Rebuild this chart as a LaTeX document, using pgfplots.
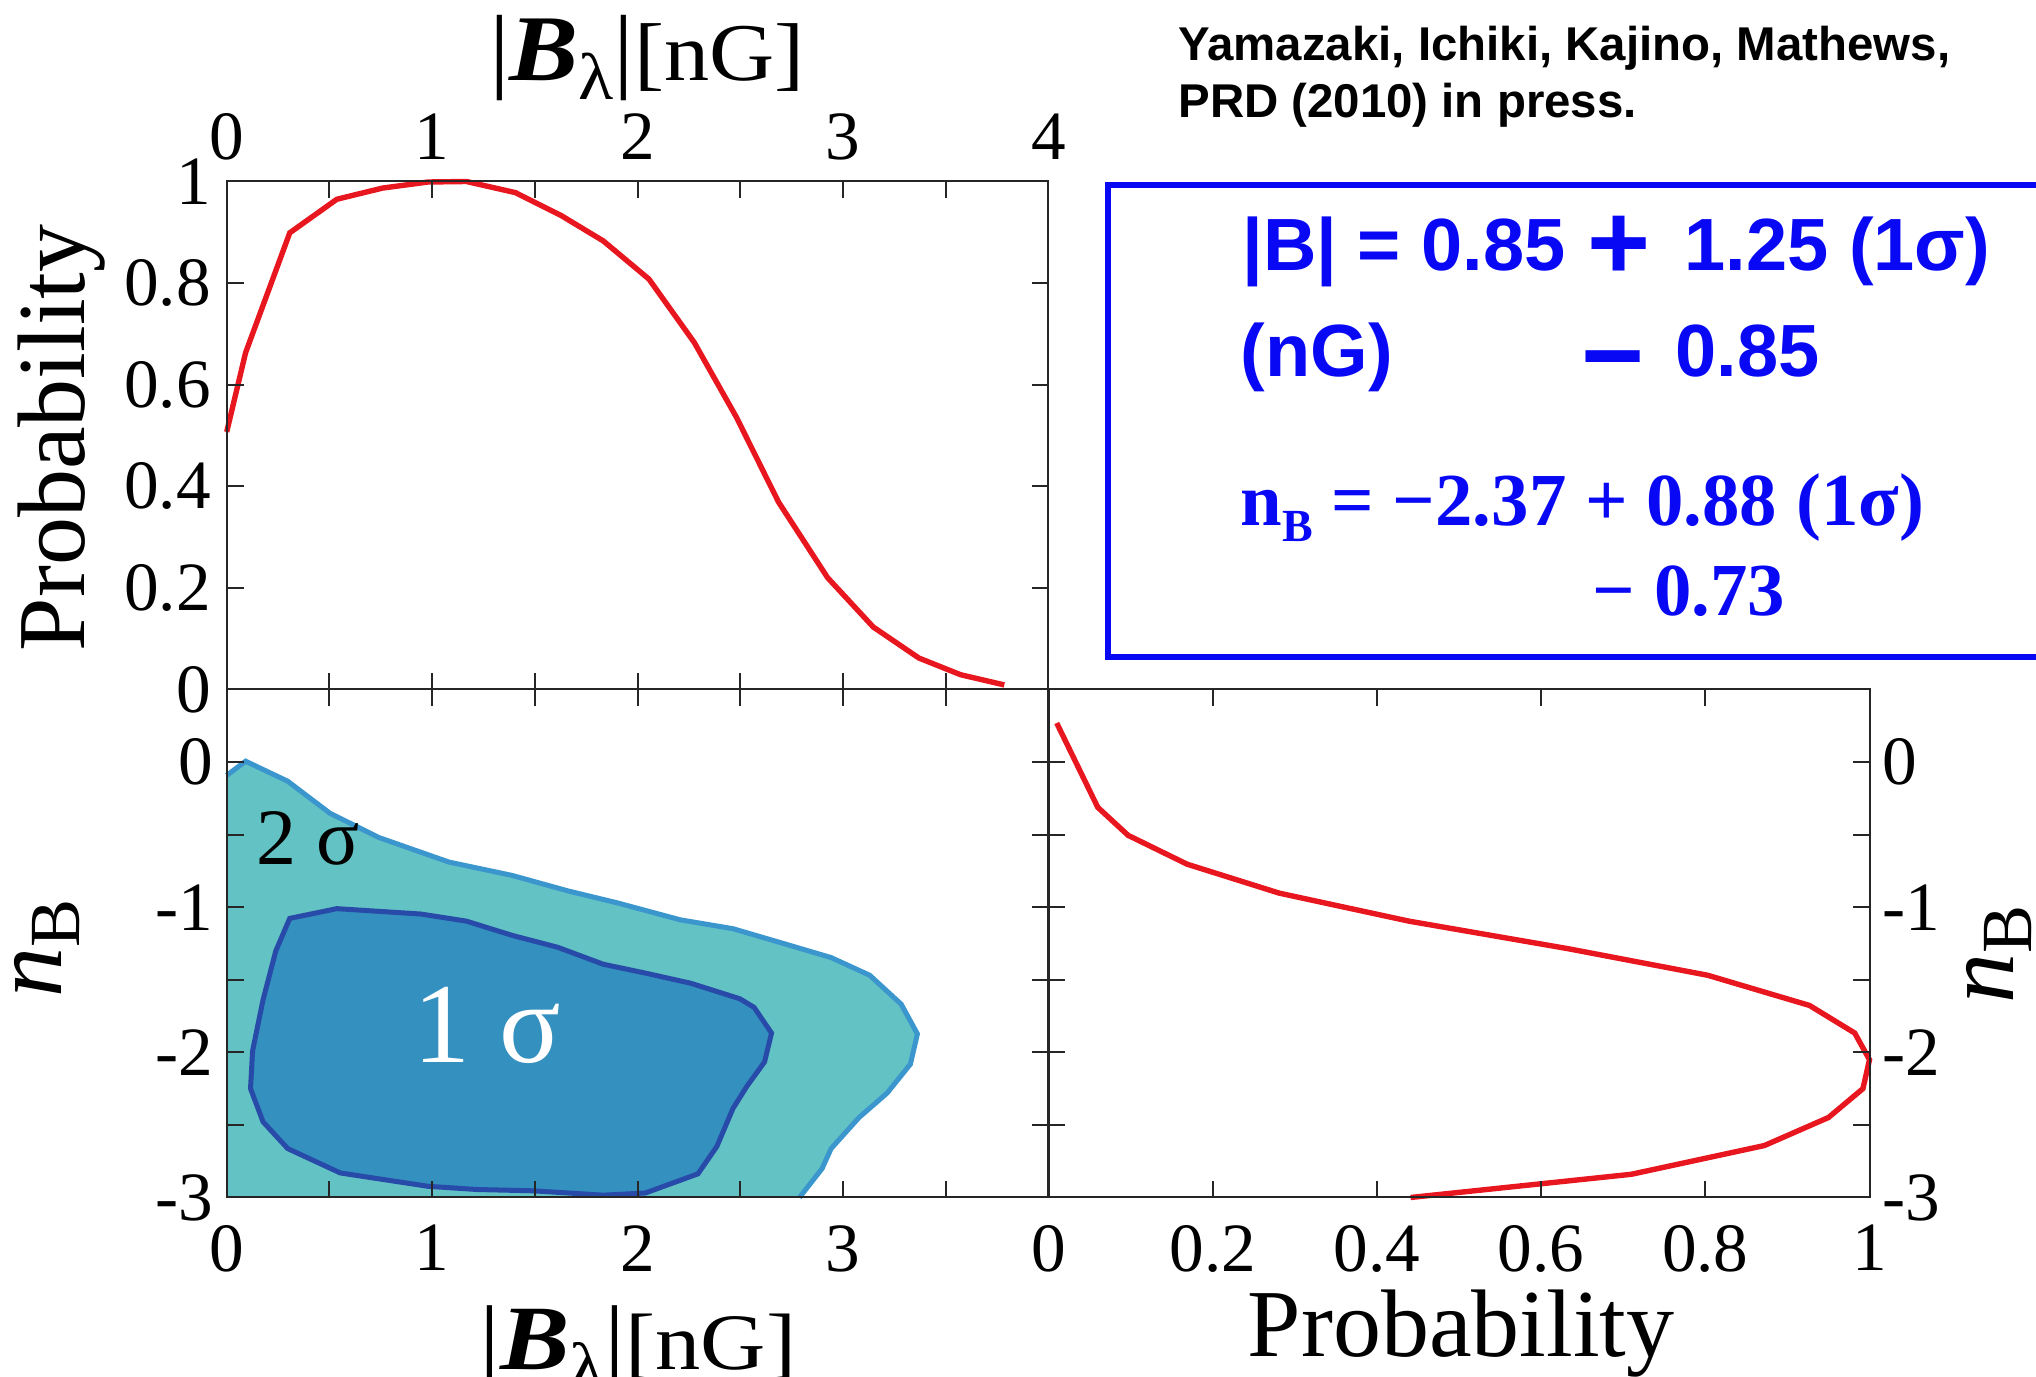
\documentclass[border=0pt]{standalone}
\usepackage{graphicx}
\usepackage{pgfplots}
\pgfplotsset{compat=1.18}
\usepackage{fontspec}
\setmainfont{Liberation Serif}
\newfontfamily\sansfam{Liberation Sans}
\definecolor{curvered}{RGB}{232,22,30}
\definecolor{outerfill}{RGB}{99,194,195}
\definecolor{outeredge}{RGB}{58,150,205}
\definecolor{innerfill}{RGB}{51,144,191}
\definecolor{inneredge}{RGB}{40,74,168}
\definecolor{boxblue}{RGB}{8,8,245}
\pgfplotsset{
  panel/.style={
    scale only axis, height=127pt,
    axis line style={black!85, line width=0.5pt},
    tick style={black!85, line width=0.5pt},
    major tick length=4.2pt, minor tick length=4.2pt,
    tick label style={font=\fontsize{17.3}{17.3}\selectfont, inner sep=0pt},
    clip=false, axis on top,
  }
}
\begin{document}
\begin{tikzpicture}
\path[use as bounding box] (0,0) rectangle (509pt,-344.25pt);
% ---------- top-left: P(|B|) ----------
\begin{axis}[panel, width=205.45pt, at={(56.675pt,-172.375pt)}, anchor=south west,
  xmin=0, xmax=4, ymin=0, ymax=1,
  xtick={0,1,2,3,4}, minor xtick={0.5,1.5,2.5,3.5}, xticklabels={0,1,2,3,4},
  xticklabel pos=upper, xticklabel shift=5.25pt,
  ytick={0,0.2,0.4,0.6,0.8,1}, yticklabels={0,0.2,0.4,0.6,0.8,1},
  yticklabel shift=3.75pt]
\addplot[curvered, line width=1.35pt] coordinates {
(0,0.507) (0.092,0.663) (0.307,0.899) (0.536,0.965) (0.758,0.987) (0.98,0.999)
(1.167,1.0) (1.406,0.978) (1.628,0.933) (1.833,0.883) (2.055,0.808) (2.276,0.683)
(2.481,0.536) (2.686,0.369) (2.925,0.220) (3.147,0.123) (3.369,0.062) (3.573,0.029)
(3.785,0.009)};
\end{axis}
% ---------- bottom-left: contours ----------
\begin{axis}[panel, width=205.45pt, at={(56.675pt,-172.375pt)}, anchor=north west,
  xmin=0, xmax=4, ymin=-3, ymax=0.5,
  xtick={0,1,2,3,4}, minor xtick={0.5,1.5,2.5,3.5}, xticklabels={0,1,2,3,{}},
  xticklabel shift=6.75pt,
  ytick={-3,-2,-1,0}, minor ytick={-2.5,-1.5,-0.5}, yticklabels={-3,-2,-1,0},
  yticklabel shift=3.2pt]
\addplot[fill=outerfill, draw=none] coordinates {
(0,-0.092) (0.092,0.006) (0.297,-0.132) (0.502,-0.352) (0.741,-0.520) (1.082,-0.689)
(1.389,-0.781) (1.662,-0.888) (1.901,-0.970) (2.208,-1.087) (2.464,-1.148) (2.686,-1.240)
(2.942,-1.347) (3.130,-1.469) (3.283,-1.668) (3.362,-1.873) (3.328,-2.081) (3.215,-2.280)
(3.078,-2.449) (2.942,-2.663) (2.898,-2.801) (2.788,-3.0) (0,-3.0)} -- cycle;
\addplot[outeredge, line width=1.25pt] coordinates {
(0,-0.092) (0.092,0.006) (0.297,-0.132) (0.502,-0.352) (0.741,-0.520) (1.082,-0.689)
(1.389,-0.781) (1.662,-0.888) (1.901,-0.970) (2.208,-1.087) (2.464,-1.148) (2.686,-1.240)
(2.942,-1.347) (3.130,-1.469) (3.283,-1.668) (3.362,-1.873) (3.328,-2.081) (3.215,-2.280)
(3.078,-2.449) (2.942,-2.663) (2.898,-2.801) (2.788,-3.0)};
\addplot[fill=innerfill, draw=inneredge, line width=1.25pt] coordinates {
(0.307,-1.077) (0.536,-1.010) (0.945,-1.047) (1.167,-1.096) (1.389,-1.194) (1.611,-1.276)
(1.833,-1.393) (2.038,-1.454) (2.259,-1.524) (2.498,-1.631) (2.567,-1.690) (2.652,-1.867)
(2.618,-2.066) (2.532,-2.234) (2.464,-2.388) (2.386,-2.648) (2.294,-2.837) (2.038,-2.969)
(1.833,-2.984) (1.491,-2.954) (1.218,-2.945) (0.980,-2.923) (0.553,-2.831) (0.297,-2.663)
(0.177,-2.479) (0.116,-2.250) (0.126,-1.990) (0.177,-1.638) (0.239,-1.301)} -- cycle;
\node[anchor=base, inner sep=0pt, font=\fontsize{20}{20}\selectfont] at (axis cs:0.394,-0.704) {2 σ};
\node[anchor=base, inner sep=0pt, text=white, font=\fontsize{28.5}{28.5}\selectfont] at (axis cs:1.269,-2.07) {1 σ};
\end{axis}
% ---------- bottom-right: P(n_B) ----------
\begin{axis}[panel, width=205.25pt, at={(262.125pt,-172.375pt)}, anchor=north west,
  xmin=0, xmax=1, ymin=-3, ymax=0.5,
  xtick={0,0.2,0.4,0.6,0.8,1}, xticklabels={0,0.2,0.4,0.6,0.8,1},
  xticklabel shift=6.75pt,
  ytick={-3,-2,-1,0}, minor ytick={-2.5,-1.5,-0.5}, yticklabels={-3,-2,-1,0},
  yticklabel pos=right, yticklabel shift=3pt]
\addplot[curvered, line width=1.35pt] coordinates {
(0.010,0.269) (0.060,-0.312) (0.097,-0.505) (0.169,-0.704) (0.281,-0.903) (0.439,-1.096)
(0.633,-1.286) (0.803,-1.469) (0.927,-1.677) (0.982,-1.867) (1.0,-2.051) (0.992,-2.250)
(0.950,-2.449) (0.872,-2.642) (0.710,-2.840) (0.441,-3.0)};
\end{axis}
% ---------- labels and box (1 unit = 1 px of the reference) ----------
\begin{scope}[x=0.25pt, y=-0.25pt]
\node[anchor=base, inner sep=0pt] at (647,81) {\scalebox{1.1}[1]{{\fontsize{23.5}{23.5}\selectfont|\textbf{\textit{B}}}\raisebox{-4.6pt}{\fontsize{16.5}{16.5}\selectfont λ}{\fontsize{23.5}{23.5}\selectfont|}\fontsize{20.5}{20.5}\selectfont[nG]}};
\node[anchor=base, inner sep=0pt] at (638,1370) {\scalebox{1.13}[1]{{\fontsize{23}{23}\selectfont|\textbf{\textit{B}}}\raisebox{-4.5pt}{\fontsize{16}{16}\selectfont λ}{\fontsize{23}{23}\selectfont|}\fontsize{20}{20}\selectfont[nG]}};
\node[rotate=90, anchor=base, inner sep=0pt] at (84,438) {\fontsize{24}{24}\selectfont Probability};
\node[anchor=base, inner sep=0pt] at (1461,1357) {\fontsize{24}{24}\selectfont Probability};
\node[rotate=90, anchor=base, inner sep=0pt] at (62,948) {\fontsize{25}{25}\selectfont\itshape n\upshape\raisebox{-4.5pt}{\fontsize{18}{18}\selectfont B}};
\node[rotate=90, anchor=base, inner sep=0pt] at (2013,954) {\fontsize{25}{25}\selectfont\itshape n\upshape\raisebox{-4.5pt}{\fontsize{18}{18}\selectfont B}};
% citation
\node[anchor=base west, inner sep=0pt, font=\sansfam\bfseries\fontsize{11.85}{11.85}\selectfont] at (1177.6,60.7) {Yamazaki, Ichiki, Kajino, Mathews,};
\node[anchor=base west, inner sep=0pt, font=\sansfam\bfseries\fontsize{11.85}{11.85}\selectfont] at (1177.6,118) {PRD (2010) in press.};
% box
\draw[boxblue, line width=1.5pt] (2045,185.5) -- (1107.5,185.5) -- (1107.5,657) -- (2045,657);
\begin{scope}[every node/.style={inner sep=0pt, text=boxblue}]
\node[anchor=base west, font=\sansfam\bfseries\fontsize{18.5}{18.5}\selectfont] at (1241.6,271) {|B| = 0.85};
\node[anchor=center, font=\sansfam\bfseries\fontsize{27}{27}\selectfont] at (1619,248) {+};
\node[anchor=base west, font=\sansfam\bfseries\fontsize{18.5}{18.5}\selectfont] at (1683.7,271) {1.25 (1σ)};
\node[anchor=base west, font=\sansfam\bfseries\fontsize{18.5}{18.5}\selectfont] at (1239.8,377) {(nG)};
\node[anchor=center, font=\sansfam\bfseries\fontsize{27}{27}\selectfont] at (1613,372) {−};
\node[anchor=base west, font=\sansfam\bfseries\fontsize{18.5}{18.5}\selectfont] at (1674.5,377) {0.85};
\node[anchor=base west, font=\bfseries\fontsize{18.7}{18.7}\selectfont] at (1239.8,525.6) {n\raisebox{-4.1pt}{\fontsize{11.5}{11.5}\selectfont B} = −2.37 + 0.88 (1σ)};
\node[anchor=base west, font=\bfseries\fontsize{18.7}{18.7}\selectfont] at (1592,615.8) {− 0.73};
\end{scope}
\end{scope}
\end{tikzpicture}
\end{document}
